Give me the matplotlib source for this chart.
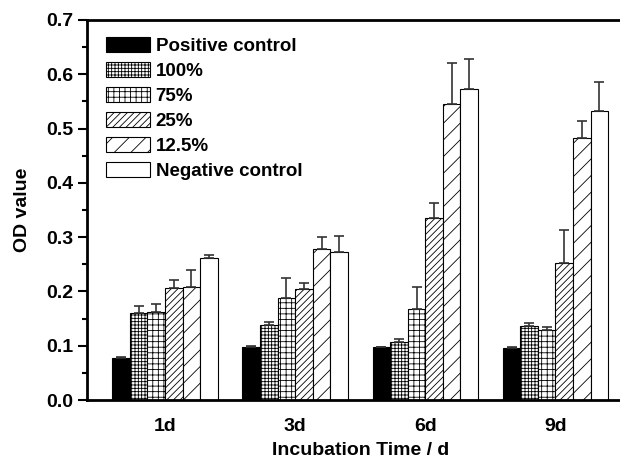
import matplotlib
matplotlib.use("Agg")
import matplotlib.pyplot as plt
import numpy as np

plt.rcParams['font.family'] = ['Liberation Sans', 'DejaVu Sans']
plt.rcParams['font.weight'] = 'bold'
plt.rcParams['hatch.linewidth'] = 0.6

days = ["1d", "3d", "6d", "9d"]
series = ["Positive control", "100%", "75%", "25%", "12.5%", "Negative control"]
values = {
    "Positive control": [0.078, 0.098, 0.097, 0.096],
    "100%":             [0.160, 0.138, 0.106, 0.137],
    "75%":              [0.162, 0.188, 0.168, 0.129],
    "25%":              [0.206, 0.204, 0.336, 0.252],
    "12.5%":            [0.209, 0.279, 0.545, 0.482],
    "Negative control": [0.262, 0.272, 0.573, 0.533],
}
errors = {
    "Positive control": [0.001, 0.001, 0.001, 0.001],
    "100%":             [0.013, 0.006, 0.007, 0.004],
    "75%":              [0.015, 0.037, 0.040, 0.005],
    "25%":              [0.015, 0.011, 0.026, 0.061],
    "12.5%":            [0.031, 0.022, 0.075, 0.032],
    "Negative control": [0.005, 0.031, 0.055, 0.052],
}
hatches = [None, "+++++", "+++", "/////", "//", None]
colors = ["black", "white", "white", "white", "white", "white"]

fig = plt.figure(figsize=(6.2, 4.59), dpi=100)
ax = fig.add_axes([0.1403, 0.1285, 0.8815, 0.828])

x = np.arange(1, len(days) + 1)
w = 0.135
n = len(series)
for i, s in enumerate(series):
    pos = x + (i - (n - 1) / 2) * w
    ax.bar(pos, values[s], width=w, color=colors[i], edgecolor="black",
           linewidth=0.8, hatch=hatches[i], label=s, zorder=2)
    ax.errorbar(pos, values[s], yerr=[np.zeros(len(days)), errors[s]],
                fmt="none", ecolor="#333333", elinewidth=1.2, capsize=3.5,
                capthick=1.2, zorder=3)

ax.set_xlim(0.4, 4.6)
ax.set_ylim(0, 0.7)
ax.set_yticks(np.arange(0, 0.71, 0.1))
ax.set_yticklabels([f"{v:.1f}" for v in np.arange(0, 0.71, 0.1)])
ax.set_yticks(np.arange(0.05, 0.7, 0.1), minor=True)
ax.set_xticks(x)
ax.set_xticklabels(days)
ax.tick_params(axis="x", length=0, pad=13, labelsize=14)
ax.tick_params(axis="y", which="major", direction="out", length=6.5, width=1.5, labelsize=14, pad=3.5)
ax.tick_params(axis="y", which="minor", direction="out", length=3.5, width=1.5)
for sp in ax.spines.values():
    sp.set_linewidth(2)

ax.set_xlabel("Incubation Time / d", fontsize=14, fontweight="bold", labelpad=5)
ax.set_ylabel("OD value", fontsize=14, fontweight="bold", labelpad=11)

leg = ax.legend(loc="upper left", bbox_to_anchor=(0.015, 0.985), frameon=False,
                fontsize=13.5, handlelength=2.35, handleheight=0.9,
                labelspacing=0.36, handletextpad=0.27, borderaxespad=0.2)
for t in leg.get_texts():
    t.set_fontweight("bold")

fig.savefig("out.png", dpi=100)
